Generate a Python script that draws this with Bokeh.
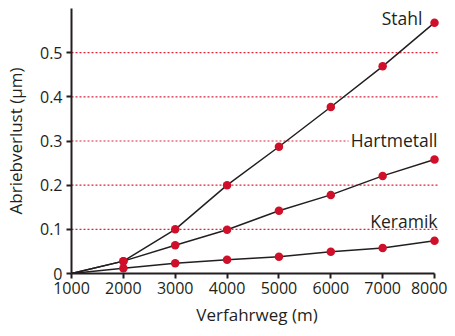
from bokeh.plotting import figure
from bokeh.models import Range1d, FixedTicker
from bokeh.core.properties import value
from bokeh.embed import file_html
from bokeh.resources import INLINE

# Data
weg = [1000, 2000, 3000, 4000, 5000, 6000, 7000, 8000]
stahl = [0, 0.028, 0.100, 0.200, 0.287, 0.377, 0.469, 0.568]
hartmetall = [0, 0.028, 0.064, 0.099, 0.142, 0.178, 0.221, 0.258]
keramik = [0, 0.012, 0.023, 0.031, 0.038, 0.049, 0.058, 0.074]
x_ticks = [1000, 2000, 3000, 4000, 5000, 6000, 7000, 8000]
y_ticks = [0, 0.1, 0.2, 0.3, 0.4, 0.5]
y_tick_labels = ["0", "0.1", "0.2", "0.3", "0.4", "0.5"]
grid_levels = [0.1, 0.2, 0.3, 0.4, 0.5]
grid_ends = [8058, 8058, 6342, 8058, 8058]
series_names = ["Stahl", "Hartmetall", "Keramik"]
label_x = [7768, 8058, 8058]
label_y = [0.5775, 0.303, 0.119]

FONT = "Open Sans"
INK = "#231f20"
RED = "#d0102a"

p = figure(width=447, height=328, output_backend="svg", toolbar_location=None,
           x_range=Range1d(1000, 8154), y_range=Range1d(0, 0.6),
           min_border_left=71, min_border_right=5, min_border_top=8,
           min_border_bottom=53)
p.background_fill_color = "white"
p.border_fill_color = "white"
p.outline_line_color = None
p.xgrid.visible = False
p.ygrid.visible = False

# dotted reference lines
p.segment(x0=[1000] * len(grid_levels), y0=grid_levels, x1=grid_ends, y1=grid_levels,
          line_color="#e0243c", line_width=1.2, line_dash="2 2")

for ys in (stahl, hartmetall, keramik):
    p.line(weg, ys, line_color=INK, line_width=1.5)
    p.scatter(weg[1:], ys[1:], size=8.5, fill_color=RED, line_color=None)

p.text(x=label_x, y=label_y, text=series_names, text_align="right",
       text_baseline="middle", text_font=value(FONT), text_font_size="17.5px",
       text_color=INK)

for ax in (p.xaxis[0], p.yaxis[0]):
    ax.axis_line_width = 2
    ax.axis_line_color = INK
    ax.major_tick_line_width = 2
    ax.major_tick_line_color = INK
    ax.major_tick_in = 0
    ax.major_tick_out = 5
    ax.minor_tick_line_color = None
    ax.major_label_text_font = FONT
    ax.major_label_text_font_size = "16px"
    ax.major_label_text_color = INK
    ax.axis_label_text_font = FONT
    ax.axis_label_text_font_size = "17px"
    ax.axis_label_text_font_style = "normal"
    ax.axis_label_text_color = INK

p.xaxis[0].ticker = FixedTicker(ticks=x_ticks)
p.xaxis[0].bounds = (1000, 8000)
p.xaxis[0].axis_label = "Verfahrweg (m)"
p.xaxis[0].major_label_standoff = 3
p.xaxis[0].axis_label_standoff = 6

p.yaxis[0].ticker = FixedTicker(ticks=y_ticks)
p.yaxis[0].major_label_overrides = {t: l for t, l in zip(y_ticks, y_tick_labels)}
p.yaxis[0].bounds = (0, 0.6)
p.yaxis[0].axis_label = "Abriebverlust (µm)"
p.yaxis[0].major_label_standoff = 4
p.yaxis[0].axis_label_standoff = 10

open("out.html", "w").write(file_html(p, INLINE))
